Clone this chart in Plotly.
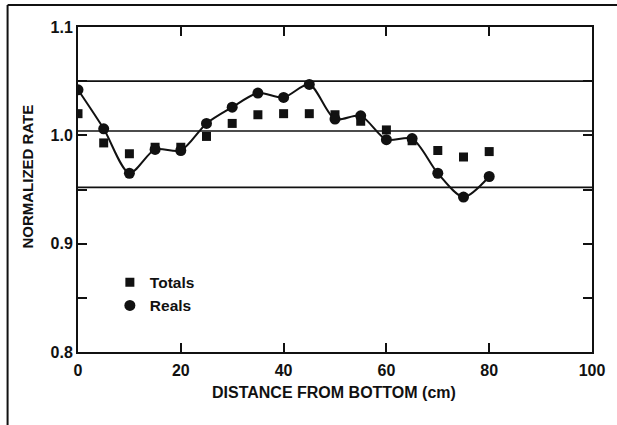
import plotly.graph_objects as go

# ---- data ----
distance_cm = [0, 5, 10, 15, 20, 25, 30, 35, 40, 45, 50, 55, 60, 65, 70, 75, 80]
totals = [1.020, 0.993, 0.983, 0.989, 0.989, 0.999, 1.011, 1.019, 1.020, 1.020,
          1.019, 1.013, 1.005, 0.995, 0.986, 0.980, 0.985]
reals = [1.042, 1.006, 0.965, 0.987, 0.986, 1.011, 1.026, 1.039, 1.035, 1.047,
         1.015, 1.018, 0.996, 0.997, 0.965, 0.943, 0.962]
ref_lines = [1.050, 1.004, 0.952]
x_ticks = [0, 20, 40, 60, 80, 100]
y_ticks = [0.8, 0.85, 0.9, 0.95, 1.0, 1.05, 1.1]
y_tick_text = ["0.8", "", "0.9", "", "1.0", "", "1.1"]

FONT = "Liberation Sans, Arial, Helvetica, sans-serif"

fig = go.Figure()
fig.add_trace(go.Scatter(
    x=distance_cm, y=totals, mode="markers", name="Totals",
    marker=dict(symbol="square", size=9, color="#111111")))
fig.add_trace(go.Scatter(
    x=distance_cm, y=reals, mode="lines", showlegend=False,
    line=dict(color="#111111", width=2, shape="spline", smoothing=0.8)))
fig.add_trace(go.Scatter(
    x=distance_cm, y=reals, mode="markers", name="Reals",
    marker=dict(symbol="circle", size=11, color="#111111")))

for v in ref_lines:
    fig.add_shape(type="line", xref="paper", yref="y", x0=0, x1=1, y0=v, y1=v,
                  line=dict(color="#111111", width=1.6), layer="below")

# outer frame (left and top edges)
fig.add_shape(type="line", xref="paper", yref="paper",
              x0=-0.137, x1=-0.137, y0=-0.25, y1=1.068,
              line=dict(color="#111111", width=2))
fig.add_shape(type="line", xref="paper", yref="paper",
              x0=-0.137, x1=1.1, y0=1.068, y1=1.068,
              line=dict(color="#111111", width=2))

fig.add_annotation(text="<b>NORMALIZED RATE</b>", xref="paper", yref="paper",
                   x=-0.099, y=0.54, xanchor="center", yanchor="middle",
                   textangle=-90, showarrow=False,
                   font=dict(family=FONT, size=15, color="#111111"))
fig.add_annotation(text="<b>DISTANCE FROM BOTTOM (cm)</b>", xref="paper", yref="paper",
                   x=0.499, y=-0.126, xanchor="center", yanchor="middle",
                   showarrow=False,
                   font=dict(family=FONT, size=16, color="#111111"))

fig.update_layout(
    width=617, height=425,
    margin=dict(l=78, r=22, t=27, b=73),
    paper_bgcolor="white", plot_bgcolor="white",
    font=dict(family=FONT, size=16, color="#111111", weight="bold"),
    showlegend=True,
    legend=dict(x=0.062, y=0.178, xanchor="left", yanchor="middle",
                bgcolor="rgba(0,0,0,0)", font=dict(size=15.5, weight="bold"),
                tracegroupgap=0, itemsizing="trace"),
    xaxis=dict(range=[0, 100], tickvals=x_ticks, ticks="inside", ticklen=9,
               tickwidth=1.5, tickcolor="#111111", showgrid=False, zeroline=False,
               showline=True, linecolor="#111111", linewidth=2, mirror="ticks",
               ticklabelstandoff=3, tickfont=dict(size=16, weight="bold")),
    yaxis=dict(range=[0.8, 1.1], tickvals=y_ticks, ticktext=y_tick_text,
               ticks="inside", ticklen=9, tickwidth=1.5, tickcolor="#111111",
               showgrid=False, zeroline=False, showline=True, linecolor="#111111",
               linewidth=2, mirror="ticks", tickfont=dict(size=16, weight="bold")),
)

fig.write_html("out.html", config={"displayModeBar": False},
               post_script="document.body.style.margin='0';")
